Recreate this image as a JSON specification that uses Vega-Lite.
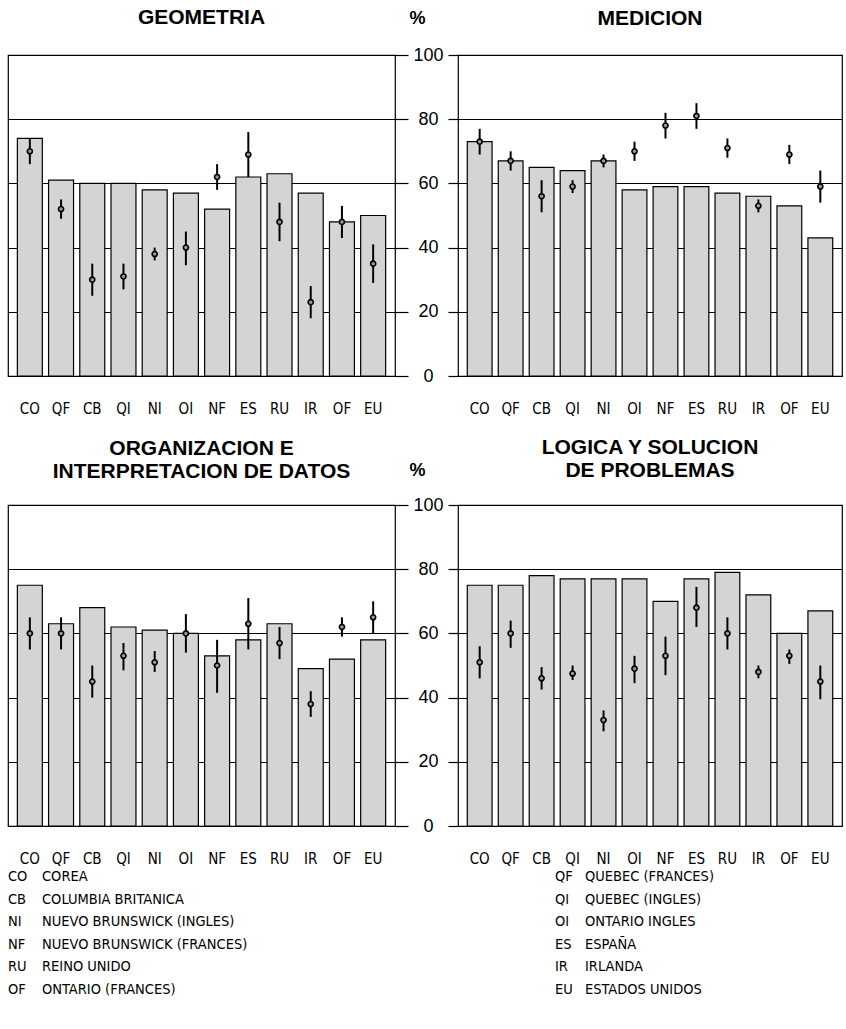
{
  "$schema": "https://vega.github.io/schema/vega-lite/v6.json",
  "background": "white",
  "padding": {"left": 7, "top": 6, "right": 4, "bottom": 4},
  "config": {
    "font": "Liberation Sans",
    "view": {"stroke": "black", "strokeWidth": 1.2},
    "title": {"font": "Liberation Sans", "fontSize": 21, "fontWeight": "bold", "color": "black", "offset": 24, "baseline": "bottom", "lineHeight": 23, "anchor": "middle"},
    "axisX": {"title": null, "domain": false, "ticks": false, "tickSize": 0, "labelPadding": 32, "labelBaseline": "middle", "labelAngle": 0, "labelFont": "DejaVu Sans Condensed, Liberation Sans Narrow, Liberation Sans", "labelFontSize": 15, "labelColor": "black"},
    "axisY": {"grid": true, "gridColor": "black", "gridWidth": 1.2, "gridOpacity": 1, "domain": false, "tickColor": "black", "tickWidth": 1.2, "labelFlush": false, "labelOverlap": false, "labelFont": "Liberation Sans", "labelFontSize": 18, "labelColor": "black"}
  },
  "datasets": {
    "scores": [
      {"p": "GEO", "code": "CO", "bar": 74, "est": 70, "lo": 66, "hi": 74},
      {"p": "GEO", "code": "QF", "bar": 61, "est": 52, "lo": 49, "hi": 55},
      {"p": "GEO", "code": "CB", "bar": 60, "est": 30, "lo": 25, "hi": 35},
      {"p": "GEO", "code": "QI", "bar": 60, "est": 31, "lo": 27, "hi": 35},
      {"p": "GEO", "code": "NI", "bar": 58, "est": 38, "lo": 36, "hi": 40},
      {"p": "GEO", "code": "OI", "bar": 57, "est": 40, "lo": 34.5, "hi": 45},
      {"p": "GEO", "code": "NF", "bar": 52, "est": 62, "lo": 58, "hi": 66},
      {"p": "GEO", "code": "ES", "bar": 62, "est": 69, "lo": 62, "hi": 76},
      {"p": "GEO", "code": "RU", "bar": 63, "est": 48, "lo": 42, "hi": 54},
      {"p": "GEO", "code": "IR", "bar": 57, "est": 23, "lo": 18, "hi": 28},
      {"p": "GEO", "code": "OF", "bar": 48, "est": 48, "lo": 43, "hi": 53},
      {"p": "GEO", "code": "EU", "bar": 50, "est": 35, "lo": 29, "hi": 41},
      {"p": "MED", "code": "CO", "bar": 73, "est": 73, "lo": 69, "hi": 77},
      {"p": "MED", "code": "QF", "bar": 67, "est": 67, "lo": 64, "hi": 70},
      {"p": "MED", "code": "CB", "bar": 65, "est": 56, "lo": 51, "hi": 61},
      {"p": "MED", "code": "QI", "bar": 64, "est": 59, "lo": 57, "hi": 61},
      {"p": "MED", "code": "NI", "bar": 67, "est": 67, "lo": 65, "hi": 69},
      {"p": "MED", "code": "OI", "bar": 58, "est": 70, "lo": 67, "hi": 73},
      {"p": "MED", "code": "NF", "bar": 59, "est": 78, "lo": 74, "hi": 82},
      {"p": "MED", "code": "ES", "bar": 59, "est": 81, "lo": 77, "hi": 85},
      {"p": "MED", "code": "RU", "bar": 57, "est": 71, "lo": 68, "hi": 74},
      {"p": "MED", "code": "IR", "bar": 56, "est": 53, "lo": 51, "hi": 55},
      {"p": "MED", "code": "OF", "bar": 53, "est": 69, "lo": 66, "hi": 72},
      {"p": "MED", "code": "EU", "bar": 43, "est": 59, "lo": 54, "hi": 64},
      {"p": "ORG", "code": "CO", "bar": 75, "est": 60, "lo": 55, "hi": 65},
      {"p": "ORG", "code": "QF", "bar": 63, "est": 60, "lo": 55, "hi": 65},
      {"p": "ORG", "code": "CB", "bar": 68, "est": 45, "lo": 40, "hi": 50},
      {"p": "ORG", "code": "QI", "bar": 62, "est": 53, "lo": 48.5, "hi": 57},
      {"p": "ORG", "code": "NI", "bar": 61, "est": 51, "lo": 48, "hi": 54.5},
      {"p": "ORG", "code": "OI", "bar": 60, "est": 60, "lo": 54, "hi": 66},
      {"p": "ORG", "code": "NF", "bar": 53, "est": 50, "lo": 41.5, "hi": 58},
      {"p": "ORG", "code": "ES", "bar": 58, "est": 63, "lo": 55, "hi": 71},
      {"p": "ORG", "code": "RU", "bar": 63, "est": 57, "lo": 52, "hi": 62},
      {"p": "ORG", "code": "IR", "bar": 49, "est": 38, "lo": 34, "hi": 42},
      {"p": "ORG", "code": "OF", "bar": 52, "est": 62, "lo": 59, "hi": 65},
      {"p": "ORG", "code": "EU", "bar": 58, "est": 65, "lo": 60, "hi": 70},
      {"p": "LOG", "code": "CO", "bar": 75, "est": 51, "lo": 46, "hi": 56},
      {"p": "LOG", "code": "QF", "bar": 75, "est": 60, "lo": 55.5, "hi": 64},
      {"p": "LOG", "code": "CB", "bar": 78, "est": 46, "lo": 42.5, "hi": 49.5},
      {"p": "LOG", "code": "QI", "bar": 77, "est": 47.5, "lo": 45.5, "hi": 50},
      {"p": "LOG", "code": "NI", "bar": 77, "est": 33, "lo": 29.5, "hi": 36},
      {"p": "LOG", "code": "OI", "bar": 77, "est": 49, "lo": 44.5, "hi": 53},
      {"p": "LOG", "code": "NF", "bar": 70, "est": 53, "lo": 47, "hi": 59},
      {"p": "LOG", "code": "ES", "bar": 77, "est": 68, "lo": 62, "hi": 74.5},
      {"p": "LOG", "code": "RU", "bar": 79, "est": 60, "lo": 55, "hi": 65},
      {"p": "LOG", "code": "IR", "bar": 72, "est": 48, "lo": 46, "hi": 50},
      {"p": "LOG", "code": "OF", "bar": 60, "est": 53, "lo": 50.5, "hi": 55},
      {"p": "LOG", "code": "EU", "bar": 67, "est": 45, "lo": 39.5, "hi": 50}
    ],
    "legend": [
      {"col": 1, "row": 1, "code": "CO", "name": "COREA"},
      {"col": 1, "row": 2, "code": "CB", "name": "COLUMBIA BRITANICA"},
      {"col": 1, "row": 3, "code": "NI", "name": "NUEVO BRUNSWICK (INGLES)"},
      {"col": 1, "row": 4, "code": "NF", "name": "NUEVO BRUNSWICK (FRANCES)"},
      {"col": 1, "row": 5, "code": "RU", "name": "REINO UNIDO"},
      {"col": 1, "row": 6, "code": "OF", "name": "ONTARIO (FRANCES)"},
      {"col": 2, "row": 1, "code": "QF", "name": "QUEBEC (FRANCES)"},
      {"col": 2, "row": 2, "code": "QI", "name": "QUEBEC (INGLES)"},
      {"col": 2, "row": 3, "code": "OI", "name": "ONTARIO INGLES"},
      {"col": 2, "row": 4, "code": "ES", "name": "ESPAÑA"},
      {"col": 2, "row": 5, "code": "IR", "name": "IRLANDA"},
      {"col": 2, "row": 6, "code": "EU", "name": "ESTADOS UNIDOS"}
    ]
  },
  "concat": [
    {
      "title": {"text": "GEOMETRIA", "offset": -19},
      "width": 387, "height": 321,
      "data": {"name": "scores"},
      "transform": [{"filter": "datum.p === 'GEO'"}],
      "encoding": {
        "x": {"field": "code", "type": "nominal", "scale": {"domain": ["CO","QF","CB","QI","NI","OI","NF","ES","RU","IR","OF","EU"], "paddingInner": 0.2, "paddingOuter": 0.3}}
      },
      "layer": [
        {"mark": {"type": "bar", "fill": "#d4d4d4", "stroke": "black", "strokeWidth": 1.2},
         "encoding": {"y": {"field": "bar", "type": "quantitative", "scale": {"domain": [0, 100], "nice": false},
           "axis": {"orient": "right", "values": [0, 20, 40, 60, 80, 100], "tickSize": 13, "labelAlign": "center", "labelPadding": 20, "labelBaseline": "middle", "title": "%", "titleAngle": 0, "titleX": 22, "titleY": -37, "titleFontSize": 18, "titleFontWeight": "bold", "titleAlign": "center", "titleBaseline": "middle", "titleColor": "black"}}}},
        {"mark": {"type": "rule", "color": "black", "strokeWidth": 2},
         "encoding": {"y": {"field": "lo", "type": "quantitative"}, "y2": {"field": "hi"}}},
        {"mark": {"type": "point", "shape": "circle", "filled": true, "fill": "#999999", "stroke": "black", "strokeWidth": 1.6, "size": 26, "opacity": 1},
         "encoding": {"y": {"field": "est", "type": "quantitative"}}}
      ]
    },
    {
      "title": {"text": "MEDICION", "offset": 25},
      "width": 384, "height": 321,
      "data": {"name": "scores"},
      "transform": [{"filter": "datum.p === 'MED'"}],
      "encoding": {
        "x": {"field": "code", "type": "nominal", "scale": {"domain": ["CO","QF","CB","QI","NI","OI","NF","ES","RU","IR","OF","EU"], "paddingInner": 0.2, "paddingOuter": 0.3}}
      },
      "layer": [
        {"mark": {"type": "bar", "fill": "#d4d4d4", "stroke": "black", "strokeWidth": 1.2},
         "encoding": {"y": {"field": "bar", "type": "quantitative", "scale": {"domain": [0, 100], "nice": false},
           "axis": {"orient": "left", "values": [0, 20, 40, 60, 80, 100], "tickSize": 10, "labels": false, "title": null}}}},
        {"mark": {"type": "rule", "color": "black", "strokeWidth": 2},
         "encoding": {"y": {"field": "lo", "type": "quantitative"}, "y2": {"field": "hi"}}},
        {"mark": {"type": "point", "shape": "circle", "filled": true, "fill": "#999999", "stroke": "black", "strokeWidth": 1.6, "size": 26, "opacity": 1},
         "encoding": {"y": {"field": "est", "type": "quantitative"}}}
      ]
    },
    {
      "title": {"text": ["ORGANIZACION E", "INTERPRETACION DE DATOS"], "offset": -21},
      "width": 387, "height": 321,
      "data": {"name": "scores"},
      "transform": [{"filter": "datum.p === 'ORG'"}],
      "encoding": {
        "x": {"field": "code", "type": "nominal", "scale": {"domain": ["CO","QF","CB","QI","NI","OI","NF","ES","RU","IR","OF","EU"], "paddingInner": 0.2, "paddingOuter": 0.3}}
      },
      "layer": [
        {"mark": {"type": "bar", "fill": "#d4d4d4", "stroke": "black", "strokeWidth": 1.2},
         "encoding": {"y": {"field": "bar", "type": "quantitative", "scale": {"domain": [0, 100], "nice": false},
           "axis": {"orient": "right", "values": [0, 20, 40, 60, 80, 100], "tickSize": 13, "labelAlign": "center", "labelPadding": 20, "labelBaseline": "middle", "title": "%", "titleAngle": 0, "titleX": 22, "titleY": -35, "titleFontSize": 18, "titleFontWeight": "bold", "titleAlign": "center", "titleBaseline": "middle", "titleColor": "black"}}}},
        {"mark": {"type": "rule", "color": "black", "strokeWidth": 2},
         "encoding": {"y": {"field": "lo", "type": "quantitative"}, "y2": {"field": "hi"}}},
        {"mark": {"type": "point", "shape": "circle", "filled": true, "fill": "#999999", "stroke": "black", "strokeWidth": 1.6, "size": 26, "opacity": 1},
         "encoding": {"y": {"field": "est", "type": "quantitative"}}}
      ]
    },
    {
      "title": {"text": ["LOGICA Y SOLUCION", "DE PROBLEMAS"], "offset": 23},
      "width": 384, "height": 321,
      "data": {"name": "scores"},
      "transform": [{"filter": "datum.p === 'LOG'"}],
      "encoding": {
        "x": {"field": "code", "type": "nominal", "scale": {"domain": ["CO","QF","CB","QI","NI","OI","NF","ES","RU","IR","OF","EU"], "paddingInner": 0.2, "paddingOuter": 0.3}}
      },
      "layer": [
        {"mark": {"type": "bar", "fill": "#d4d4d4", "stroke": "black", "strokeWidth": 1.2},
         "encoding": {"y": {"field": "bar", "type": "quantitative", "scale": {"domain": [0, 100], "nice": false},
           "axis": {"orient": "left", "values": [0, 20, 40, 60, 80, 100], "tickSize": 10, "labels": false, "title": null}}}},
        {"mark": {"type": "rule", "color": "black", "strokeWidth": 2},
         "encoding": {"y": {"field": "lo", "type": "quantitative"}, "y2": {"field": "hi"}}},
        {"mark": {"type": "point", "shape": "circle", "filled": true, "fill": "#999999", "stroke": "black", "strokeWidth": 1.6, "size": 26, "opacity": 1},
         "encoding": {"y": {"field": "est", "type": "quantitative"}}}
      ]
    },
    {
      "width": 2, "height": 113,
      "view": {"stroke": null},
      "data": {"name": "legend"},
      "transform": [{"filter": "datum.col === 1"}],
      "encoding": {
        "y": {"field": "row", "type": "ordinal", "scale": {"type": "point", "padding": 0}, "axis": null}
      },
      "layer": [
        {"mark": {"type": "text", "align": "left", "baseline": "middle", "dy": -78, "dx": -1, "font": "DejaVu Sans Condensed, Liberation Sans Narrow, Liberation Sans", "fontSize": 14.5, "color": "black"},
         "encoding": {"text": {"field": "code"}}},
        {"mark": {"type": "text", "align": "left", "baseline": "middle", "dy": -78, "dx": 33, "font": "DejaVu Sans Condensed, Liberation Sans Narrow, Liberation Sans", "fontSize": 14.5, "color": "black"},
         "encoding": {"text": {"field": "name"}}}
      ]
    },
    {
      "width": 194, "height": 113,
      "view": {"stroke": null},
      "data": {"name": "legend"},
      "transform": [{"filter": "datum.col === 2"}],
      "encoding": {
        "y": {"field": "row", "type": "ordinal", "scale": {"type": "point", "padding": 0}, "axis": null}
      },
      "layer": [
        {"mark": {"type": "text", "align": "left", "baseline": "middle", "dy": -78, "font": "DejaVu Sans Condensed, Liberation Sans Narrow, Liberation Sans", "fontSize": 14.5, "color": "black"},
         "encoding": {"text": {"field": "code"}}},
        {"mark": {"type": "text", "align": "left", "baseline": "middle", "dy": -78, "dx": 30, "font": "DejaVu Sans Condensed, Liberation Sans Narrow, Liberation Sans", "fontSize": 14.5, "color": "black"},
         "encoding": {"text": {"field": "name"}}}
      ]
    }
  ],
  "columns": 2,
  "bounds": "flush",
  "spacing": {"row": 129, "column": 63}
}
